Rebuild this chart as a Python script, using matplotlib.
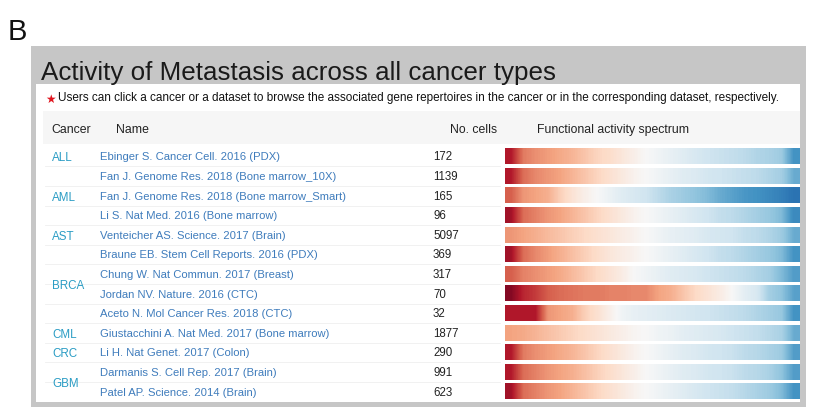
import numpy as np
import matplotlib
matplotlib.use('Agg')
from matplotlib import pyplot as plt
from matplotlib.patches import Rectangle

plt.rcParams['font.family'] = ['Liberation Sans', 'DejaVu Sans']

cancers = ['ALL', 'AML', 'AST', 'BRCA', 'CML', 'CRC', 'GBM']
cancer_rows = [1, 3, 1, 4, 1, 1, 2]
names = ['Ebinger S. Cancer Cell. 2016 (PDX)',
         'Fan J. Genome Res. 2018 (Bone marrow_10X)',
         'Fan J. Genome Res. 2018 (Bone marrow_Smart)',
         'Li S. Nat Med. 2016 (Bone marrow)',
         'Venteicher AS. Science. 2017 (Brain)',
         'Braune EB. Stem Cell Reports. 2016 (PDX)',
         'Chung W. Nat Commun. 2017 (Breast)',
         'Jordan NV. Nature. 2016 (CTC)',
         'Aceto N. Mol Cancer Res. 2018 (CTC)',
         'Giustacchini A. Nat Med. 2017 (Bone marrow)',
         'Li H. Nat Genet. 2017 (Colon)',
         'Darmanis S. Cell Rep. 2017 (Brain)',
         'Patel AP. Science. 2014 (Brain)']
n_cells = [172, 1139, 165, 96, 5097, 369, 317, 70, 32, 1877, 290, 991, 623]

# activity spectrum per dataset, position on the red-blue scale (0 = red, 1 = blue)
spectrum = [
    [0.1, 0.24, 0.27, 0.29, 0.31, 0.33, 0.36, 0.39, 0.41, 0.44, 0.47, 0.5, 0.52, 0.54, 0.56, 0.58, 0.6, 0.61, 0.62, 0.63, 0.65, 0.66, 0.68, 0.8],
    [0.1, 0.22, 0.26, 0.28, 0.3, 0.33, 0.36, 0.39, 0.42, 0.45, 0.48, 0.5, 0.52, 0.54, 0.56, 0.57, 0.59, 0.6, 0.61, 0.62, 0.63, 0.65, 0.67, 0.75],
    [0.2, 0.28, 0.3, 0.32, 0.38, 0.43, 0.47, 0.5, 0.53, 0.56, 0.58, 0.6, 0.63, 0.66, 0.68, 0.7, 0.72, 0.75, 0.77, 0.79, 0.8, 0.82, 0.84, 0.87],
    [0.08, 0.22, 0.25, 0.28, 0.3, 0.33, 0.36, 0.39, 0.42, 0.45, 0.48, 0.5, 0.52, 0.54, 0.56, 0.58, 0.6, 0.62, 0.63, 0.65, 0.67, 0.69, 0.72, 0.82],
    [0.28, 0.3, 0.32, 0.34, 0.36, 0.38, 0.4, 0.42, 0.44, 0.46, 0.48, 0.5, 0.52, 0.54, 0.55, 0.56, 0.58, 0.59, 0.6, 0.62, 0.63, 0.65, 0.68, 0.75],
    [0.08, 0.22, 0.26, 0.29, 0.32, 0.35, 0.38, 0.41, 0.44, 0.46, 0.48, 0.5, 0.52, 0.54, 0.56, 0.58, 0.6, 0.62, 0.63, 0.65, 0.67, 0.69, 0.72, 0.8],
    [0.2, 0.25, 0.27, 0.29, 0.31, 0.34, 0.37, 0.4, 0.43, 0.46, 0.5, 0.52, 0.54, 0.56, 0.57, 0.58, 0.6, 0.61, 0.62, 0.63, 0.65, 0.67, 0.72, 0.78],
    [0.04, 0.12, 0.15, 0.2, 0.22, 0.23, 0.24, 0.24, 0.25, 0.25, 0.26, 0.26, 0.3, 0.32, 0.36, 0.4, 0.43, 0.46, 0.5, 0.55, 0.58, 0.67, 0.7, 0.77],
    [0.1, 0.1, 0.1, 0.28, 0.3, 0.32, 0.38, 0.42, 0.47, 0.52, 0.54, 0.55, 0.56, 0.57, 0.58, 0.59, 0.6, 0.61, 0.62, 0.63, 0.65, 0.67, 0.69, 0.8],
    [0.3, 0.31, 0.33, 0.35, 0.37, 0.39, 0.41, 0.43, 0.45, 0.47, 0.49, 0.5, 0.52, 0.53, 0.55, 0.56, 0.57, 0.58, 0.6, 0.61, 0.62, 0.64, 0.66, 0.75],
    [0.1, 0.24, 0.27, 0.29, 0.31, 0.33, 0.36, 0.39, 0.42, 0.45, 0.48, 0.5, 0.52, 0.54, 0.56, 0.57, 0.59, 0.6, 0.61, 0.63, 0.64, 0.66, 0.68, 0.78],
    [0.1, 0.22, 0.25, 0.28, 0.3, 0.32, 0.35, 0.38, 0.41, 0.44, 0.47, 0.5, 0.52, 0.54, 0.56, 0.57, 0.59, 0.6, 0.61, 0.63, 0.64, 0.66, 0.7, 0.78],
    [0.08, 0.22, 0.25, 0.28, 0.3, 0.33, 0.36, 0.39, 0.42, 0.45, 0.48, 0.5, 0.52, 0.54, 0.56, 0.58, 0.6, 0.61, 0.62, 0.64, 0.66, 0.68, 0.72, 0.8],
]

title = 'Activity of Metastasis across all cancer types'
note = 'Users can click a cancer or a dataset to browse the associated gene repertoires in the cancer or in the corresponding dataset, respectively.'

W, H = 822, 414
fig = plt.figure(figsize=(W / 100, H / 100), dpi=100)
ax = fig.add_axes([0, 0, 1, 1])
ax.set_xlim(0, W)
ax.set_ylim(H, 0)
ax.axis('off')

# panel frame
ax.add_patch(Rectangle((31, 47), 775, 361, facecolor='#c6c6c6', edgecolor='none', zorder=0))
ax.add_patch(Rectangle((36, 85), 764, 318, facecolor='white', edgecolor='none', zorder=0))
ax.add_patch(Rectangle((43, 112), 757, 33, facecolor='#f6f6f6', edgecolor='none', zorder=0))

ax.text(8, 40, 'B', fontsize=21, color='#111111', va='baseline')
ax.text(41, 80, title, fontsize=18.7, color='#1a1a1a', va='baseline')
ax.text(50, 99, '\u2605', fontsize=8.5, color='#e0141e', va='center', ha='center',
        family=['DejaVu Sans'])
ax.text(58, 98, note, fontsize=8.5, color='#111111', va='center')

hdr_y = 130
ax.text(51, hdr_y, 'Cancer', fontsize=8.8, color='#222222', va='center')
ax.text(116, hdr_y, 'Name', fontsize=8.8, color='#222222', va='center')
ax.text(450, hdr_y, 'No. cells', fontsize=8.8, color='#222222', va='center')
ax.text(537, hdr_y, 'Functional activity spectrum', fontsize=8.8, color='#222222', va='center')

cmap = plt.get_cmap('RdBu')
y0, pitch, bh = 157.5, 19.6, 15.5
x0, x1 = 505, 799
for i in range(len(names)):
    yc = y0 + i * pitch
    if i > 0:
        ax.plot([45, 500], [yc - pitch / 2] * 2, color='#efefef', lw=0.6, zorder=1)
    ax.text(100, yc, names[i], fontsize=8.1, color='#3f7cbc', va='center')
    ax.text(433, yc, str(n_cells[i]), fontsize=8.3, color='#222222', va='center')
    ax.imshow(np.array(spectrum[i])[None, :], cmap=cmap, vmin=0, vmax=1, aspect='auto',
              interpolation='bilinear', extent=(x0, x1, yc + bh / 2, yc - bh / 2), zorder=2)

start = 0
for c, n in zip(cancers, cancer_rows):
    yc = y0 + (start + (n - 1) / 2) * pitch + 1
    ax.text(52, yc, c, fontsize=8.4, color='#2a9cc4', va='center')
    start += n

ax.set_xlim(0, W)
ax.set_ylim(H, 0)
fig.savefig('out.png', dpi=100)
